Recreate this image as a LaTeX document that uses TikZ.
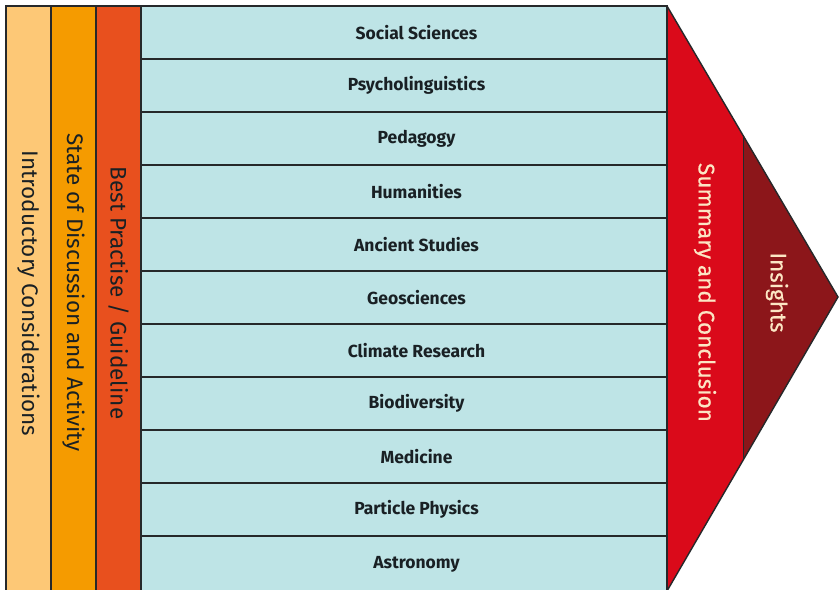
\documentclass[tikz,border=0pt]{standalone}
\usepackage{fontspec}
\setmainfont{Fira Sans}
\newfontfamily\semifont[FakeBold=0.6]{Fira Sans}
\definecolor{cA}{RGB}{253,200,118}
\definecolor{cB}{RGB}{245,155,0}
\definecolor{cC}{RGB}{232,80,30}
\definecolor{rowblue}{RGB}{190,228,230}
\definecolor{sumred}{RGB}{218,10,26}
\definecolor{insred}{RGB}{140,22,26}
\definecolor{edge}{RGB}{38,40,42}
\definecolor{ink}{RGB}{25,32,36}
\definecolor{cream}{RGB}{252,230,196}
\tikzset{
  colbox/.style={draw=edge, line width=1.4pt, minimum width=45pt, minimum height=586pt, inner sep=0pt},
  coltext/.style={rotate=-90, text=ink, font=\fontsize{22.5}{26}\selectfont},
  rowbox/.style={draw=edge, line width=1.4pt, fill=rowblue, minimum width=526pt, minimum height=53pt, inner sep=0pt},
  rowtext/.style={text=ink, font=\bfseries\fontsize{17.5}{20}\selectfont},
  redtext/.style={rotate=-90, text=cream, font=\semifont\fontsize{22.5}{26}\selectfont},
}
\begin{document}
\begin{tikzpicture}[x=1pt,y=-1pt]
\useasboundingbox (0,0) rectangle (840,589);
\fill[white] (0,0) rectangle (840,589);
% columns
\node[colbox, fill=cA] (colA) at (28.5,299) {};
\node[colbox, fill=cB] (colB) at (73.5,299) {};
\node[colbox, fill=cC] (colC) at (118.5,299) {};
\node[coltext] (tA) at (28.5,293.5) {Introductory Considerations};
\node[coltext] (tB) at (73.5,292.5) {State of Discussion and Activity};
\node[coltext] (tC) at (118.5,293) {Best Practise / Guideline};
% rows
\foreach \i/\t in {0/Social Sciences,1/Psycholinguistics,2/Pedagogy,3/Humanities,4/Ancient Studies,5/Geosciences,6/Climate Research,7/Biodiversity,8/Medicine,9/Particle Physics}{
  \node[rowbox] (row\i) at (404,{6+53*(\i+0.5)}) {};
  \node[rowtext] (lab\i) at (416.5,{6+53*(\i+0.5)}) {\t};
}
\node[rowbox, minimum height=55pt] (row10) at (404,{536+27.5}) {};
\node[rowtext] (lab10) at (416.5,564.5) {Astronomy};
% arrow head
\coordinate (tip) at (838,297);
\coordinate (sTop) at (667,6);
\coordinate (sBot) at (667,591);
\coordinate (iTop) at (743,135);
\coordinate (iBot) at (743,460);
\fill[sumred] (sTop) -- (tip) -- (sBot) -- cycle;
\fill[insred] (iTop) -- (tip) -- (iBot) -- cycle;
\draw[edge, line width=0.6pt] (iTop) -- (iBot);
\draw[edge, line width=1.4pt, line join=miter] (sTop) -- (tip) -- (sBot);
\draw[edge, line width=1.4pt] (sTop) -- (sBot);
\node[redtext] (tSum) at (705,292.5) {Summary and Conclusion};
\node[redtext] (tIns) at (777,292.5) {Insights};
\end{tikzpicture}
\end{document}
